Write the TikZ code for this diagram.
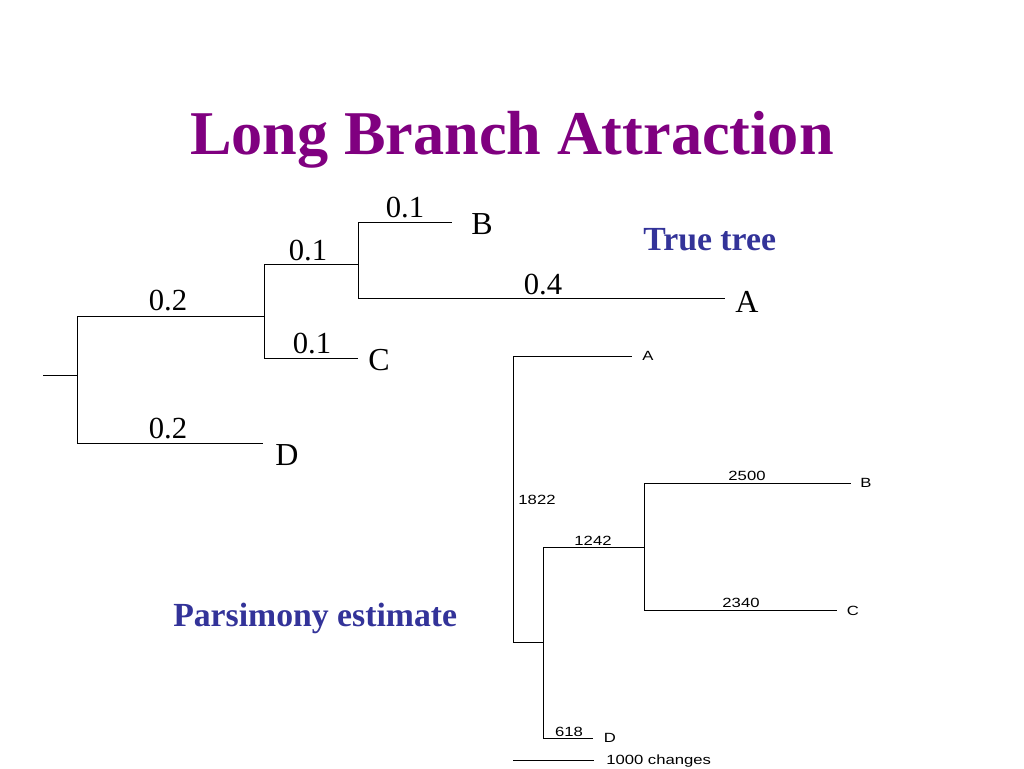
\documentclass[tikz,border=0pt]{standalone}
\usepackage{fontspec}
\setmainfont{Liberation Serif}
\newfontfamily\treefont[FakeStretch=1.25]{Liberation Sans}
\definecolor{titlepurple}{RGB}{128,0,128}
\definecolor{navyblue}{RGB}{51,51,153}
\begin{document}
\begin{tikzpicture}[x=0.75pt,y=-0.75pt,
  branch/.style={draw=black,line width=0.75pt},
  titletext/.style={anchor=base west,inner sep=0,text=titlepurple,font=\fontsize{46.7}{50}\selectfont\bfseries},
  bluetext/.style={anchor=base west,inner sep=0,text=navyblue,font=\fontsize{25.3}{28}\selectfont\bfseries},
  lenlabel/.style={anchor=base,inner sep=0,font=\fontsize{23}{26}\selectfont},
  taxon/.style={anchor=base,inner sep=0,font=\fontsize{24}{28}\selectfont},
  smalllabel/.style={anchor=base,inner sep=0,font=\treefont\fontsize{10}{12}\selectfont},
]
\useasboundingbox (0,0) rectangle (1024,768);
\fill[white] (0,0) rectangle (1024,768);

% title
\node[titletext] (title) at (190,154) {Long Branch Attraction};
\node[bluetext] (truetree) at (643,250) {True tree};
\node[bluetext] (parsest) at (173,626) {Parsimony estimate};

% ---------- true tree ----------
\coordinate (r0) at (43,375);
\coordinate (r) at (77,375);
\coordinate (n1) at (264,316);
\coordinate (n2) at (358,264);
\coordinate (tB) at (452,222);
\coordinate (tA) at (725,298);
\coordinate (tC) at (358,358);
\coordinate (tD) at (263,443);

\draw[branch] (r0) -- (r);
\draw[branch] (r) |- (n1);
\draw[branch] (r) |- (tD);
\draw[branch] (n1) |- (n2);
\draw[branch] (n1) |- (tC);
\draw[branch] (n2) |- (tB);
\draw[branch] (n2) |- (tA);

\node[taxon] (lB) at (482,234) {B};
\node[taxon] (lA) at (747,312) {A};
\node[taxon] (lC) at (379,370) {C};
\node[taxon] (lD) at (287,465) {D};

\node[lenlabel] (e1) at (168,310) {0.2};
\node[lenlabel] (e2) at (308,260) {0.1};
\node[lenlabel] (e3) at (405,217) {0.1};
\node[lenlabel] (e4) at (312,353) {0.1};
\node[lenlabel] (e5) at (168,438) {0.2};
\node[lenlabel] (e6) at (543,294) {0.4};

% ---------- parsimony tree ----------
\coordinate (p0) at (513,642);
\coordinate (pA) at (632,356);
\coordinate (p1) at (543,642);
\coordinate (p2) at (644,547);
\coordinate (pB) at (851,483);
\coordinate (pC) at (837,610);
\coordinate (pD) at (593,738);

\draw[branch] (p0) |- (pA);
\draw[branch] (p0) -- (p1);
\draw[branch] (p1) |- (p2);
\draw[branch] (p1) |- (pD);
\draw[branch] (p2) |- (pB);
\draw[branch] (p2) |- (pC);

\node[smalllabel] (sA) at (648,360) {A};
\node[smalllabel] (sB) at (866,487) {B};
\node[smalllabel] (sC) at (853,615) {C};
\node[smalllabel] (sD) at (610,742) {D};

\node[smalllabel] (b1822) at (537,504) {1822};
\node[smalllabel] (b1242) at (593,545) {1242};
\node[smalllabel] (b2500) at (747,480) {2500};
\node[smalllabel] (b2340) at (741,607) {2340};
\node[smalllabel] (b618) at (569,736) {618};

% scale bar
\coordinate (s0) at (513,760);
\coordinate (s1) at (594,760);
\draw[branch] (s0) -- (s1);
\node[smalllabel,anchor=base west] (scale) at (606,764) {1000 changes};
\end{tikzpicture}
\end{document}
